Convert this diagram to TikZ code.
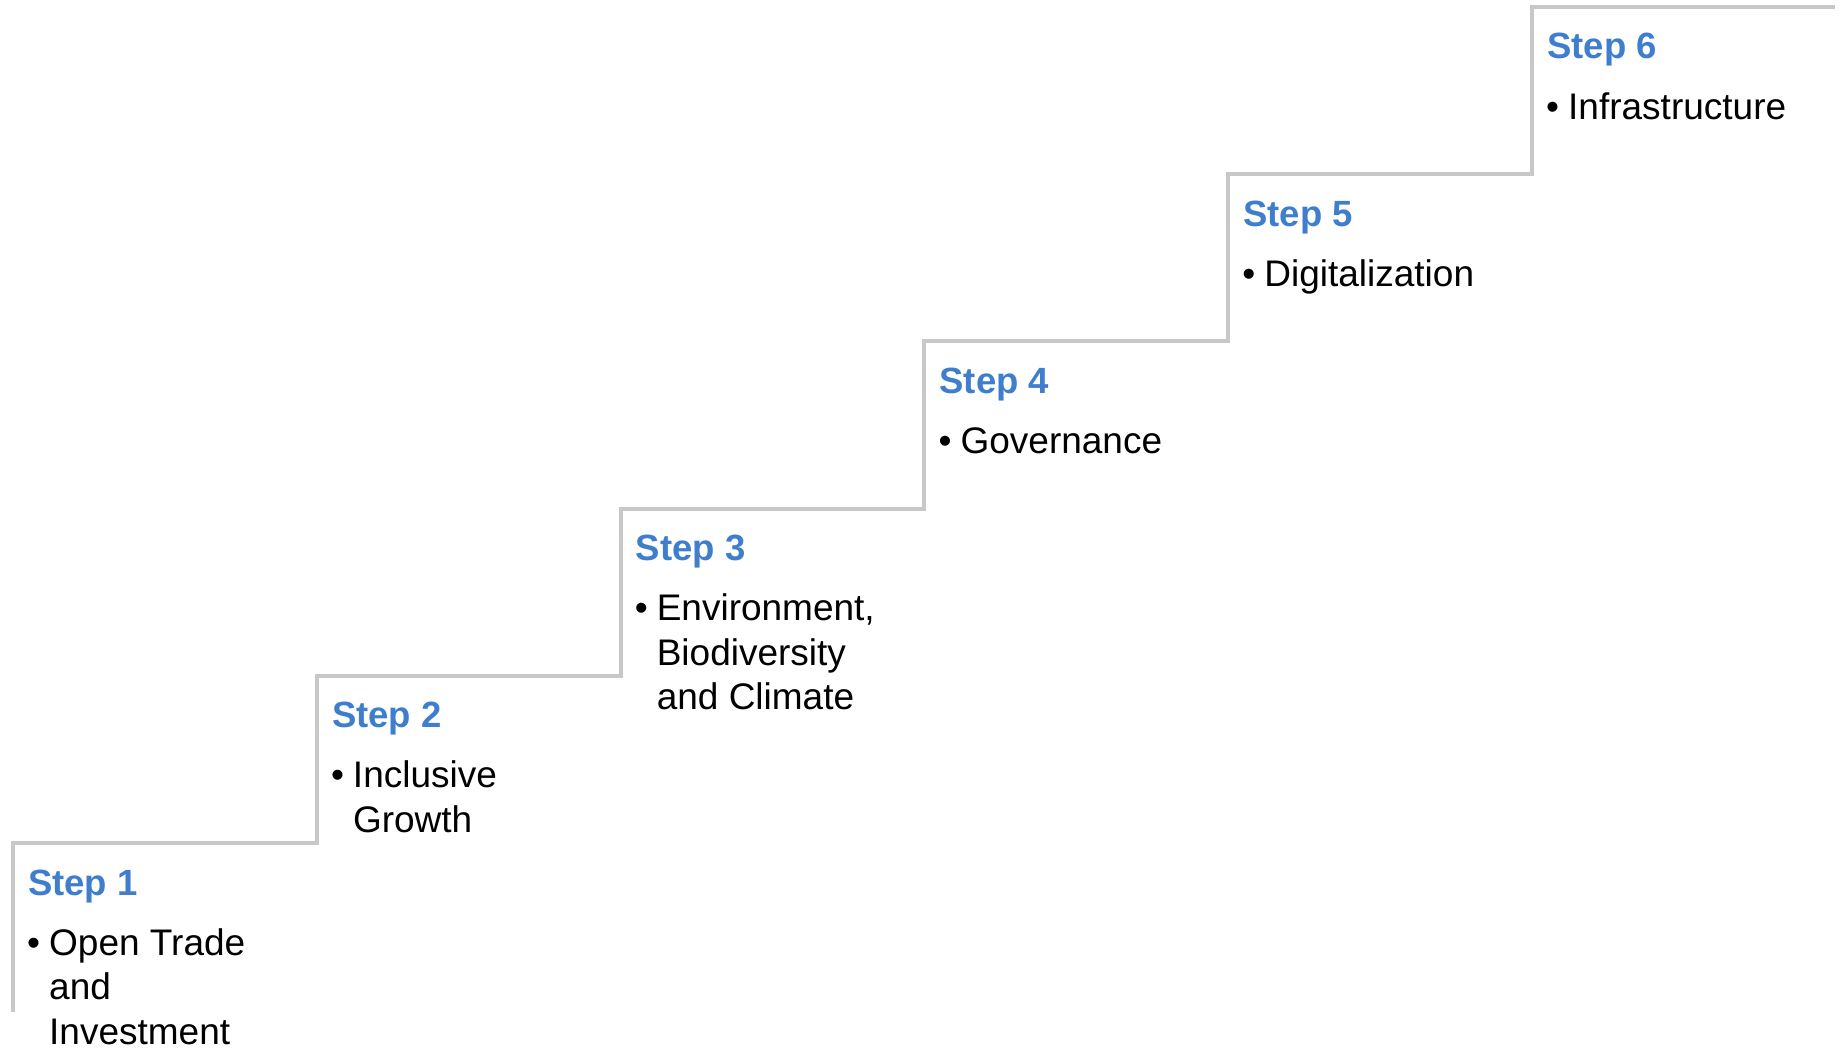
\documentclass[tikz,border=0pt]{standalone}
\usepackage{fontspec}
\setmainfont{Liberation Sans}
\definecolor{stepblue}{RGB}{62,126,204}
\definecolor{stairgray}{RGB}{200,200,200}
\begin{document}
\begin{tikzpicture}[x=1pt,y=-1pt,
  stairline/.style={draw=stairgray,line width=4pt,line cap=butt,line join=miter},
  steptitle/.style={anchor=base west,inner sep=0pt,text=stepblue,font=\fontsize{36.5}{44.5}\selectfont\bfseries},
  stepbody/.style={anchor=base west,inner sep=0pt,text=black,font=\fontsize{37}{44.5}\selectfont}]
\useasboundingbox[fill=white] (0,0) rectangle (1845,1049);
% corners of the stairs
\coordinate (c0) at (13,843);
\coordinate (c1) at (316.8,675.8);
\coordinate (c2) at (620.6,508.6);
\coordinate (c3) at (924.4,341.4);
\coordinate (c4) at (1228.2,174.2);
\coordinate (c5) at (1532,7);
\coordinate (start) at (13,1012);
\coordinate (end) at (1835,7);
\draw[stairline] (start) -- (c0) -| (c1) -| (c2) -| (c3) -| (c4) -| (c5) -- (end);
% texts
\newcommand{\bulletlines}[1]{\begin{tabular}[t]{@{}l@{}l@{}}\makebox[22pt][l]{•}&#1\end{tabular}}
\node[steptitle] (t1) at ([shift={(15,52)}]c0) {Step 1};
\node[stepbody] (b1) at ([shift={(14,112)}]c0) {\bulletlines{Open Trade\\ & and\\ & Investment}};
\node[steptitle] (t2) at ([shift={(15,52)}]c1) {Step 2};
\node[stepbody] (b2) at ([shift={(14,112)}]c1) {\bulletlines{Inclusive\\ & Growth}};
\node[steptitle] (t3) at ([shift={(15,52)}]c2) {Step 3};
\node[stepbody] (b3) at ([shift={(14,112)}]c2) {\bulletlines{Environment,\\ & Biodiversity\\ & and Climate}};
\node[steptitle] (t4) at ([shift={(15,52)}]c3) {Step 4};
\node[stepbody] (b4) at ([shift={(14,112)}]c3) {\bulletlines{Governance}};
\node[steptitle] (t5) at ([shift={(15,52)}]c4) {Step 5};
\node[stepbody] (b5) at ([shift={(14,112)}]c4) {\bulletlines{Digitalization}};
\node[steptitle] (t6) at ([shift={(15,52)}]c5) {Step 6};
\node[stepbody] (b6) at ([shift={(14,112)}]c5) {\bulletlines{Infrastructure}};
\end{tikzpicture}
\end{document}
